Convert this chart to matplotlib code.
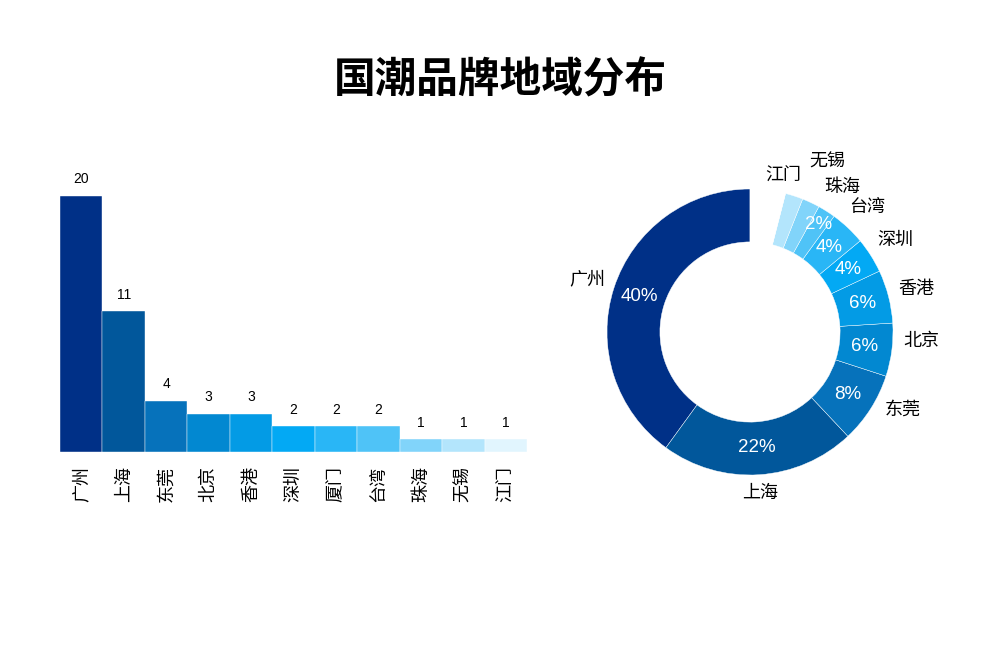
import numpy as np
import matplotlib
matplotlib.use('Agg')
from matplotlib import pyplot as plt

plt.rcParams['font.family'] = ['Noto Sans CJK SC', 'DejaVu Sans']

cities = ['广州', '上海', '东莞', '北京', '香港', '深圳', '厦门', '台湾', '珠海', '无锡', '江门']
counts = [20, 11, 4, 3, 3, 2, 2, 2, 1, 1, 1]
palette = ['#003087', '#01579b', '#0672bb', '#0288d1', '#039be5', '#03a9f4',
           '#29b6f6', '#4fc3f7', '#81d4fa', '#b3e5fc', '#e1f5fe']

# the donut keeps 厦门 at the end, drawn almost white and unlabelled
pie_order = ['广州', '上海', '东莞', '北京', '香港', '深圳', '台湾', '珠海', '无锡', '江门', '厦门']
pie_colors = palette[:10] + ['#ffffff']
hide_pct = {'无锡', '江门', '厦门'}
hide_name = {'厦门'}

num_font = ['Liberation Sans', 'Noto Sans CJK SC']

fig = plt.figure(figsize=(10, 6.67), dpi=100)
fig.text(0.5, 0.88, '国潮品牌地域分布', ha='center', va='center',
         fontsize=30, fontweight='bold')

# bar chart
ax = fig.add_axes([0.06, 1 - 452 / 667, 0.467, 256 / 667])
x = np.arange(len(cities))
ax.bar(x, counts, width=1.0, color=palette, edgecolor='white', linewidth=0.3)
for xi, v in zip(x, counts):
    ax.text(xi, v + 0.75, str(v), ha='center', va='bottom', fontsize=10,
            family=num_font, clip_on=False)
ax.set_xlim(-0.5, len(cities) - 0.5)
ax.set_ylim(0, 20)
ax.set_xticks(x)
ax.set_xticklabels(cities, rotation=90, fontsize=13)
ax.tick_params(length=0, pad=10)
ax.set_yticks([])
for s in ax.spines.values():
    s.set_visible(False)

# donut
r_px = 143
side = 3.2 * r_px
pax = fig.add_axes([(750 - side / 2) / 1000, (335 - side / 2) / 667, side / 1000, side / 667])
lookup = dict(zip(cities, counts))
pie_vals = [lookup[c] for c in pie_order]
total = sum(pie_vals)
wedges, _ = pax.pie(pie_vals, colors=pie_colors, startangle=90, counterclock=True,
                    radius=1.0, wedgeprops=dict(width=0.37, edgecolor='white', linewidth=0.3))
pax.set_xlim(-1.6, 1.6)
pax.set_ylim(-1.6, 1.6)
pax.set_aspect('equal')
pax.axis('off')

# small nudges where names would collide
name_adjust = {'无锡': (1.31, 65.6), '江门': (1.12, 78), '上海': (1.13, None),
               '北京': (1.2, 357), '东莞': (1.2, 333)}
pct_adjust = {'珠海': 0.89}
for w, name, v in zip(wedges, pie_order, pie_vals):
    mid = (w.theta1 + w.theta2) / 2
    if name not in hide_pct:
        r = pct_adjust.get(name, 0.81)
        pax.text(r * np.cos(np.radians(mid)), r * np.sin(np.radians(mid)),
                 f'{round(v / total * 100)}%', ha='center', va='center',
                 color='white', fontsize=13.5, family=num_font)
    if name not in hide_name:
        r, ang = name_adjust.get(name, (1.2, None))
        ang = mid if ang is None else ang
        pax.text(r * np.cos(np.radians(ang)), r * np.sin(np.radians(ang)), name,
                 ha='center', va='center', fontsize=13)

fig.savefig('out.png', dpi=100, facecolor='white')
